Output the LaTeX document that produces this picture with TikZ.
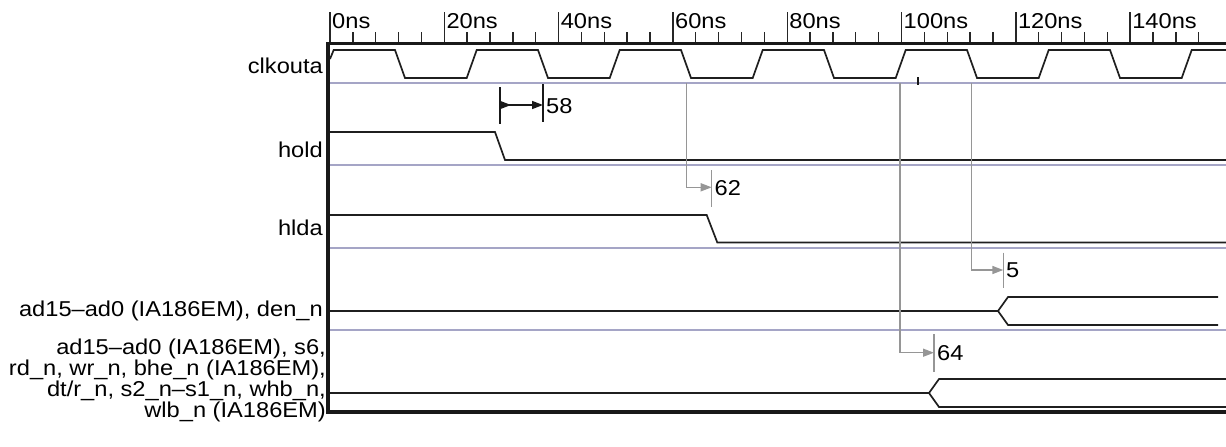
\documentclass[tikz,border=0pt]{standalone}
\usepackage{fontspec}
\setmainfont{Liberation Sans}[FakeStretch=1.1]
\usetikzlibrary{arrows.meta}
\definecolor{lavgrey}{RGB}{165,165,198}
\definecolor{measgrey}{RGB}{150,150,150}
\begin{document}
\begin{tikzpicture}[x=1pt, y=-1pt,
  wave/.style={draw=black!88, line width=1.7pt},
  rowline/.style={draw=lavgrey, line width=1.6pt},
  frameline/.style={draw=black!90, line width=3.5pt},
  tickline/.style={draw=black!85, line width=1.4pt},
  siglabel/.style={anchor=base east, inner sep=0pt, font=\fontsize{21.5}{17}\selectfont},
  numlabel/.style={anchor=base west, inner sep=0pt, font=\fontsize{21.5}{17}\selectfont},
  meas/.style={draw=measgrey, line width=1.5pt, -{Triangle[length=11pt,width=8pt]}},
  measbar/.style={draw=measgrey, line width=1.5pt},
  setup/.style={draw=black!90, line width=1.5pt, {Triangle[length=11pt,width=8pt,reversed]}-{Triangle[length=11pt,width=8pt]}},
  setupbar/.style={draw=black!90, line width=1.5pt}]
  \useasboundingbox (0,0) rectangle (1226,447);

  % time ruler
  \foreach \i in {1,...,38}
    \draw[tickline] ({330+22.86*\i},32) -- ({330+22.86*\i},43);
  \foreach \k/\lab in {0/0,1/20,2/40,3/60,4/80,5/100,6/120,7/140} {
    \draw[tickline] ({330+114.3*\k},12) -- ({330+114.3*\k},43);
    \node[numlabel] (t\lab) at ({332+114.3*\k},28) {\lab ns};
  }

  % signal names
  \node[siglabel] (clkouta) at (323,73) {clkouta};
  \node[siglabel] (hold) at (323,157) {hold};
  \node[siglabel] (hlda) at (323,235) {hlda};
  \node[siglabel] (den) at (323,316) {ad15--ad0 (IA186EM), den\_n};
  \node[siglabel, align=right] (bus) at (326,417) {ad15--ad0 (IA186EM), s6,\\rd\_n, wr\_n, bhe\_n (IA186EM),\\dt/r\_n, s2\_n--s1\_n, whb\_n,\\wlb\_n (IA186EM)};

  % row separators
  \foreach \y in {83,165,248,330}
    \draw[rowline] (330,\y) -- (1226,\y);
  \draw[setupbar] (918,77) -- (918,85);

  % waveforms
  \draw[wave] (330,59) -- (333.7,50)
    \foreach \k in {0,...,5} { -- ({395+143*\k},50) -- ({405+143*\k},78)
      -- ({466.7+143*\k},78) -- ({476.7+143*\k},50) } -- (1226,50);
  \draw[wave] (330,132) -- (495,132) -- (505,160) -- (1226,160);
  \draw[wave] (330,215) -- (706.7,215) -- (717.3,242.5) -- (1226,242.5);
  \draw[wave] (330,311) -- (998,311) -- (1008,297) -- (1218,297);
  \draw[wave] (998,311) -- (1008,325) -- (1218,325);
  \draw[wave] (330,393) -- (929,393) -- (939,379) -- (1226,379);
  \draw[wave] (929,393) -- (939,407) -- (1226,407);

  % frame
  \draw[frameline] (328,43.3) -- (1226,43.3);
  \draw[frameline] (328,412) -- (1226,412);
  \draw[frameline] (328,41.5) -- (328,413.8);

  % timing arrows
  \coordinate (hold-fall) at (500,105);
  \coordinate (clk-fall1) at (543,105);
  \draw[setupbar] (500,87) -- (500,124);
  \draw[setupbar] (543,84) -- (543,122);
  \draw[setup] (hold-fall) -- (clk-fall1);
  \node[numlabel] (m58) at (546,113) {58};

  \coordinate (clk-fall3) at (686.7,83);
  \coordinate (hlda-fall) at (711.7,187.3);
  \draw[measbar] (711.7,170) -- (711.7,207);
  \draw[meas] (clk-fall3) |- (hlda-fall);
  \node[numlabel] (m62) at (714.5,195) {62};

  \coordinate (clk-fall5) at (971.7,83);
  \coordinate (den-edge) at (1003.3,270);
  \draw[measbar] (1003.3,252.7) -- (1003.3,288.3);
  \draw[meas] (clk-fall5) |- (den-edge);
  \node[numlabel] (m5) at (1006,277) {5};

  \coordinate (clk-rise4) at (900,83);
  \coordinate (bus-edge) at (934,352.7);
  \draw[measbar] (934,334) -- (934,371.7);
  \draw[meas] (clk-rise4) |- (bus-edge);
  \node[numlabel] (m64) at (937,360) {64};
\end{tikzpicture}
\end{document}
